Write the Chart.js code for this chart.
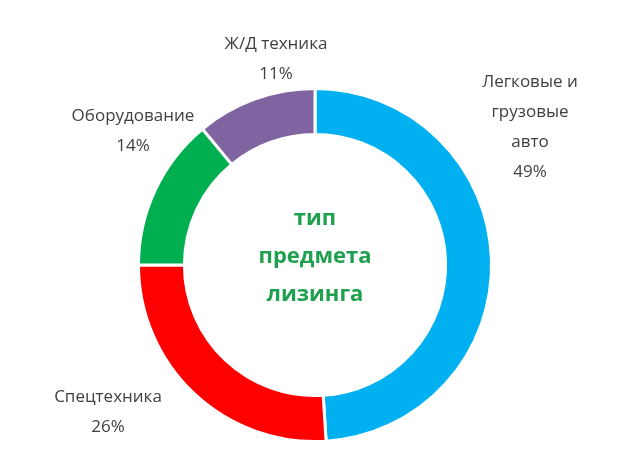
<!DOCTYPE html>
<html>
<head>
<meta charset="utf-8">
<script src="https://cdn.jsdelivr.net/npm/chart.js@4"></script>
<style>
  html, body { margin: 0; padding: 0; background: #fff; }
  #wrap { width: 620px; height: 476px; }
</style>
</head>
<body>
<div id="wrap"><canvas id="chart"></canvas></div>
<script>
const categories = [['Легковые и', 'грузовые', 'авто'], ['Спецтехника'], ['Оборудование'], ['Ж/Д техника']];
const shares = [49, 26, 14, 11];
const colors = ['#00b0f0', '#ff0000', '#00b050', '#8064a2'];
const centerTitle = ['тип', 'предмета', 'лизинга'];

// label anchor offsets from the donut centre (px)
const labelOffsets = [[215, -183], [-207, 132], [-182, -149], [-39, -221]];

const labelPlugin = {
    id: 'labels',
    afterDraw(chart) {
        const ctx = chart.ctx;
        const arc = chart.getDatasetMeta(0).data[0];
        const cx = arc.x, cy = arc.y;
        ctx.save();
        ctx.textAlign = 'center';
        ctx.textBaseline = 'middle';
        ctx.fillStyle = '#404040';
        ctx.font = '17px "Open Sans", sans-serif';
        categories.forEach((lines, i) => {
            const all = lines.concat([shares[i] + '%']);
            const [dx, dy] = labelOffsets[i];
            all.forEach((t, j) => ctx.fillText(t, cx + dx, cy + dy + j * 30));
        });
        ctx.fillStyle = '#1fa04e';
        ctx.font = 'bold 22px "Open Sans", sans-serif';
        centerTitle.forEach((t, j) => ctx.fillText(t, cx, cy - 46 + j * 38));
        ctx.restore();
    }
};

new Chart(document.getElementById('chart'), {
    type: 'doughnut',
    data: {
        labels: categories.map(c => c.join(' ')),
        datasets: [{
            data: shares,
            backgroundColor: colors,
            borderColor: '#ffffff',
            borderWidth: 3
        }]
    },
    options: {
        responsive: true,
        maintainAspectRatio: false,
        animation: false,
        cutout: '74%',
        layout: { padding: { top: 87, bottom: 33, left: 137, right: 127 } },
        plugins: { legend: { display: false }, tooltip: { enabled: false } }
    },
    plugins: [labelPlugin]
});
</script>
</body>
</html>
